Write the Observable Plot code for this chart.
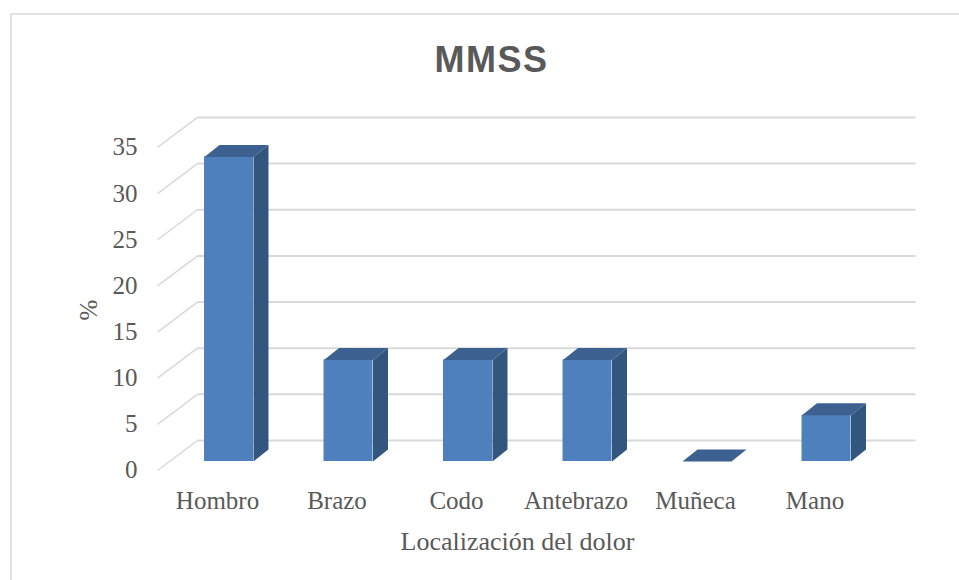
<!DOCTYPE html>
<html><head><meta charset="utf-8">
<script src="https://cdn.jsdelivr.net/npm/d3@7"></script>
<script src="https://cdn.jsdelivr.net/npm/@observablehq/plot@0.6"></script>
<style>
html,body{margin:0;padding:0;background:#fff;overflow:hidden;width:959px;height:580px;}
#frame{position:absolute;left:10px;top:13px;width:2000px;height:2000px;border-left:2px solid #e2e2e2;border-top:2px solid #e2e2e2;pointer-events:none;}
#title{height:100px;box-sizing:border-box;padding-top:39px;padding-left:24px;line-height:36px;text-align:center;font:bold 36px "Liberation Sans",Arial,sans-serif;letter-spacing:1.5px;color:#595959;}
#chart svg{display:block;}
</style></head><body>
<div id="frame"></div>
<div id="title"></div>
<div id="chart"></div>
<script>
const chartTitle = "MMSS";
const categories = ["Hombro", "Brazo", "Codo", "Antebrazo", "Muñeca", "Mano"];
const values = [33, 11, 11, 11, 0, 5];
const yTicks = [0, 5, 10, 15, 20, 25, 30, 35];
const xTitle = "Localización del dolor";
const yTitle = "%";

document.getElementById("title").textContent = chartTitle;

// 3D geometry (in scale units)
const hw = 0.205;      // half bar width
const ddx = 0.1255;    // bar depth in x
const ddy = 1.3;       // bar depth in y
const wallLeft = -0.264, wallRight = 5.745, frontX = -0.598;
const backOff = 2.275, frontOff = -0.975;

const bars = categories.map((c, i) => ({c, i, v: values[i]}));
const sidePts = bars.flatMap(d => [
  {id: d.i, x: d.i + hw, y: 0},
  {id: d.i, x: d.i + hw + ddx, y: ddy},
  {id: d.i, x: d.i + hw + ddx, y: d.v + ddy},
  {id: d.i, x: d.i + hw, y: d.v}
]);
const topPts = bars.flatMap(d => [
  {id: d.i, x: d.i - hw, y: d.v},
  {id: d.i, x: d.i + hw, y: d.v},
  {id: d.i, x: d.i + hw + ddx, y: d.v + ddy},
  {id: d.i, x: d.i - hw + ddx, y: d.v + ddy}
]);

const serif = "'Liberation Serif', 'DejaVu Serif', serif";
const chart = Plot.plot({
  width: 959, height: 480,
  marginTop: 20, marginBottom: 39, marginLeft: 75, marginRight: 0,
  x: {domain: [0, 5], range: [228.5, 826], axis: null},
  y: {domain: [0, 35], range: [361, 361 - 35 * 9.23], axis: null},
  style: {background: "transparent", overflow: "visible"},
  marks: [
    Plot.link(yTicks, {x1: () => wallLeft, x2: () => wallRight, y1: d => d + backOff, y2: d => d + backOff, stroke: "#d9d9d9", strokeWidth: 2}),
    Plot.link(yTicks, {x1: () => frontX, y1: d => d + frontOff, x2: () => wallLeft, y2: d => d + backOff, stroke: "#d9d9d9", strokeWidth: 1.5}),
    Plot.text(yTicks, {x: () => frontX, y: d => d + frontOff, text: d => String(d), textAnchor: "end", dx: -20, fontSize: 25, fontFamily: serif, fill: "#595959"}),
    Plot.rect(bars, {x1: d => d.i - hw, x2: d => d.i + hw, y1: () => 0, y2: "v", fill: "#4e80bd"}),
    Plot.line(sidePts, {x: "x", y: "y", z: "id", fill: "#33567f", stroke: "none"}),
    Plot.line(topPts, {x: "x", y: "y", z: "id", fill: "#3c6190", stroke: "none"}),
    Plot.text(bars, {x: "i", y: () => 0, text: "c", dx: -11.5, dy: 39, fontSize: 25, fontFamily: serif, fill: "#595959"}),
    Plot.text([xTitle], {frameAnchor: "bottom", lineAnchor: "middle", text: d => d, fontSize: 26, fontFamily: serif, fill: "#595959"}),
    Plot.text([yTitle], {frameAnchor: "left", lineAnchor: "middle", rotate: -90, dx: 13, dy: -10.5, text: d => d, fontSize: 25, fontFamily: serif, fill: "#595959"})
  ]
});
document.getElementById("chart").appendChild(chart);
</script>
</body></html>
